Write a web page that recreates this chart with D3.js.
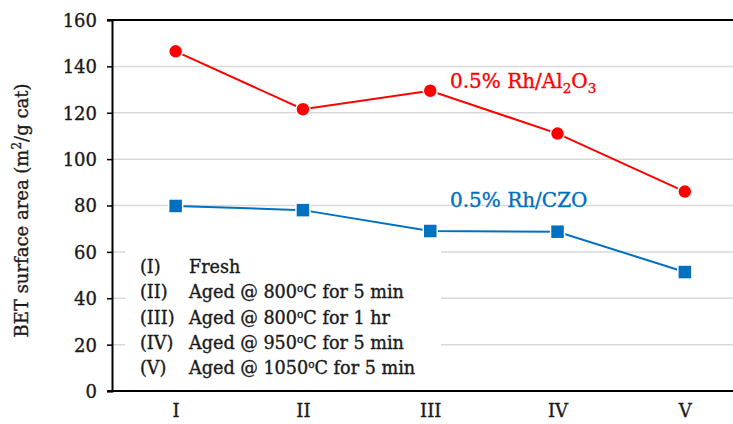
<!DOCTYPE html>
<html>
<head>
<meta charset="utf-8">
<script src="https://cdn.jsdelivr.net/npm/d3@7/dist/d3.min.js"></script>
<style>
  html, body { margin: 0; padding: 0; background: #fff; }
  svg { display: block; }
  text { font-family: "DejaVu Serif", "Liberation Serif", serif; }
</style>
</head>
<body>
<svg id="chart" width="733" height="424"></svg>
<script>
// Aging conditions (x categories)
const categories = ["I", "II", "III", "IV", "V"];
// BET surface area, m²/g cat
const rhAl2O3 = [146.5, 121.5, 129.5, 111, 86];
const rhCZO = [79.8, 78, 69, 68.7, 51.3];
const yTicks = [0, 20, 40, 60, 80, 100, 120, 140, 160];
const legendRows = [
  ["(I)", "Fresh"],
  ["(II)", "Aged @ 800", "o", "C for 5 min"],
  ["(III)", "Aged @ 800", "o", "C for 1 hr"],
  ["(IV)", "Aged @ 950", "o", "C for 5 min"],
  ["(V)", "Aged @ 1050", "o", "C for 5 min"]
];

const svg = d3.select("#chart");
const W = 733, H = 424;
const m = { left: 112, top: 20, bottom: 391 };
const step = 127.3;

const x = d3.scalePoint().domain(categories)
  .range([m.left + step / 2, m.left + step * 4.5]);
const y = d3.scaleLinear().domain([0, 160]).range([m.bottom, m.top]);

const red = "#ff0000", blue = "#0070c0", ink = "#1a1a1a";

// thicken serif glyphs slightly
function heavy(sel, color) {
  sel.attr("fill", color).attr("stroke", color).attr("stroke-width", 0.35);
}

// horizontal gridlines
svg.append("g").selectAll("line")
  .data(yTicks.filter(d => d > 0 && d < 160))
  .join("line")
  .attr("x1", m.left).attr("x2", W)
  .attr("y1", d => y(d)).attr("y2", d => y(d))
  .attr("stroke", "#d9d9d9").attr("stroke-width", 1.5);

// top frame line
svg.append("line")
  .attr("x1", m.left - 5).attr("x2", W)
  .attr("y1", y(160)).attr("y2", y(160))
  .attr("stroke", "#000").attr("stroke-width", 2);

// y axis
const yAxis = svg.append("g")
  .attr("transform", `translate(${m.left},0)`)
  .call(d3.axisLeft(y).tickValues(yTicks).tickSize(5).tickPadding(10));
yAxis.select(".domain").attr("stroke-width", 2);
yAxis.selectAll(".tick line").attr("stroke-width", 1.5);
yAxis.selectAll("text")
  .style("font-family", '"DejaVu Serif", serif')
  .style("font-size", "18px").attr("dy", "0.36em")
  .call(heavy, ink);

// x axis
const xAxis = svg.append("g")
  .attr("transform", `translate(0,${m.bottom})`)
  .call(d3.axisBottom(x).tickSize(0).tickPadding(13));
xAxis.select(".domain").remove();
xAxis.selectAll("text")
  .style("font-family", '"DejaVu Serif", serif')
  .style("font-size", "18px")
  .call(heavy, ink);
svg.append("line")
  .attr("x1", m.left - 5).attr("x2", W)
  .attr("y1", m.bottom).attr("y2", m.bottom)
  .attr("stroke", "#000").attr("stroke-width", 2);

// y axis title
svg.append("text")
  .attr("transform", `translate(28,${(y(0) + y(160)) / 2 + 5}) rotate(-90)`)
  .attr("text-anchor", "middle")
  .style("font-size", "18px")
  .call(heavy, ink)
  .call(t => {
    t.append("tspan").text("BET surface area (m");
    t.append("tspan").text("2").attr("dy", -7).style("font-size", "12px");
    t.append("tspan").text("/g cat)").attr("dy", 7);
  });

// legend box covering the lower gridlines
svg.append("rect")
  .attr("x", 125).attr("y", 246).attr("width", 316).attr("height", 142)
  .attr("fill", "#fff");
const lg = svg.append("g").style("font-size", "17.6px").call(heavy, ink);
legendRows.forEach((r, i) => {
  const yy = 273 + i * 25.3;
  lg.append("text").attr("x", 140).attr("y", yy).text(r[0]);
  const t = lg.append("text").attr("x", 189).attr("y", yy);
  t.append("tspan").text(r[1]);
  if (r.length > 2) {
    t.append("tspan").text(r[2]).attr("dy", -6).style("font-size", "10.5px");
    t.append("tspan").text(r[3]).attr("dy", 6);
  }
});

// series lines
const line = d3.line().x((d, i) => x(categories[i])).y(d => y(d));
svg.append("path").datum(rhAl2O3).attr("d", line)
  .attr("fill", "none").attr("stroke", red).attr("stroke-width", 2);
svg.append("path").datum(rhCZO).attr("d", line)
  .attr("fill", "none").attr("stroke", blue).attr("stroke-width", 2);

// markers
svg.append("g").selectAll("circle").data(rhAl2O3).join("circle")
  .attr("cx", (d, i) => x(categories[i])).attr("cy", d => y(d))
  .attr("r", 7).attr("fill", red).attr("stroke", "#fff").attr("stroke-width", 1.5);
svg.append("g").selectAll("rect").data(rhCZO).join("rect")
  .attr("x", (d, i) => x(categories[i]) - 7).attr("y", d => y(d) - 7)
  .attr("width", 14).attr("height", 14)
  .attr("fill", blue).attr("stroke", "#fff").attr("stroke-width", 1.5);

// series labels
svg.append("text").attr("x", 450).attr("y", 88)
  .style("font-size", "20px").call(heavy, red)
  .call(t => {
    t.append("tspan").text("0.5% Rh/Al");
    t.append("tspan").text("2").attr("dy", 5).style("font-size", "13.5px");
    t.append("tspan").text("O").attr("dy", -5);
    t.append("tspan").text("3").attr("dy", 5).style("font-size", "13.5px");
  });
svg.append("text").attr("x", 450).attr("y", 207)
  .style("font-size", "20px").call(heavy, blue)
  .text("0.5% Rh/CZO");
</script>
</body>
</html>
